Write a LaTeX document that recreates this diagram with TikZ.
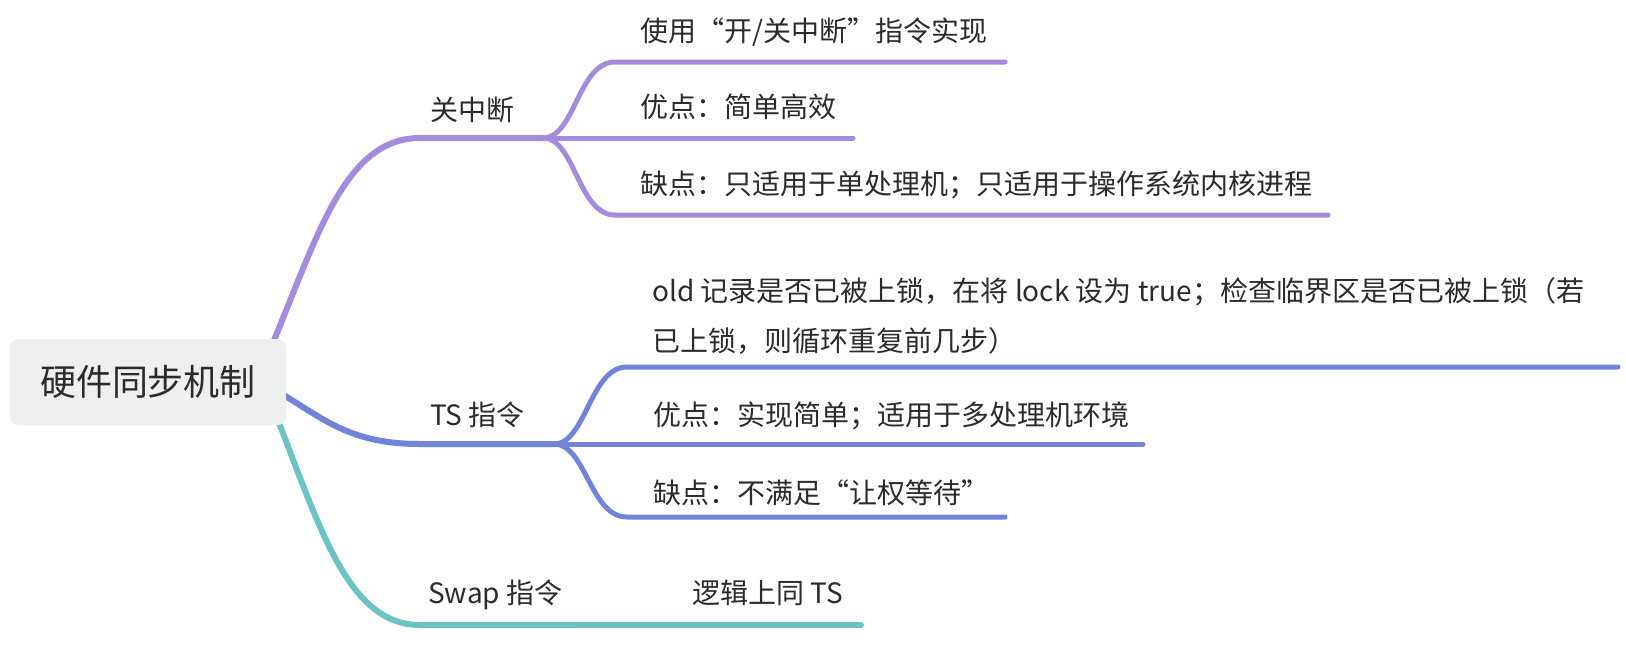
\documentclass[tikz,border=0pt]{standalone}
\usepackage{fontspec}
\setmainfont{Noto Sans CJK SC}
\definecolor{purpleC}{HTML}{A38BDD}
\definecolor{blueC}{HTML}{7283DA}
\definecolor{tealC}{HTML}{6DC3C3}
\definecolor{rootC}{HTML}{EEF0F0}
\definecolor{textC}{HTML}{2B2B2B}
\begin{document}
\begin{tikzpicture}[x=1pt,y=-1pt,
  mainline/.style={line width=6pt, line cap=round},
  subline/.style={line width=5pt, line cap=round},
  topic/.style={anchor=base west, inner sep=0pt, text=textC, font=\fontsize{28}{34}\selectfont},
  rootbox/.style={fill=rootC, rounded corners=8pt, minimum width=276pt, minimum height=86pt, inner sep=0pt, text=textC, font=\fontsize{36}{42}\selectfont}]
\useasboundingbox (0,0) rectangle (1626,670);

% coordinates
\coordinate (r1) at (272,345);
\coordinate (k1) at (420,138);
\coordinate (b1) at (543,138);
\coordinate (k1a) at (615,62);
\coordinate (e1a) at (1005,62);
\coordinate (e1b) at (853,138);
\coordinate (k1c) at (615,215);
\coordinate (e1c) at (1328,215);

\coordinate (r2) at (270,387);
\coordinate (k2) at (420,444);
\coordinate (b2) at (554,444);
\coordinate (k2a) at (627,367);
\coordinate (e2a) at (1618,367);
\coordinate (e2b) at (1143,444);
\coordinate (k2c) at (627,517);
\coordinate (e2c) at (1005,517);

\coordinate (r3) at (270,400);
\coordinate (k3) at (420,625);
\coordinate (b3) at (575,625);
\coordinate (e3) at (861,625);

% connectors
\draw[mainline, purpleC] (r1) .. controls (318,235) and (345,138) .. (k1) -- (b1);
\draw[subline, purpleC] (b1) .. controls +(32,0) and +(-37,0) .. (k1a) -- (e1a);
\draw[subline, purpleC] (b1) -- (e1b);
\draw[subline, purpleC] (b1) .. controls +(32,0) and +(-37,0) .. (k1c) -- (e1c);

\draw[mainline, blueC] (r2) .. controls (320,415) and (345,444) .. (k2) -- (b2);
\draw[subline, blueC] (b2) .. controls +(32,0) and +(-37,0) .. (k2a) -- (e2a);
\draw[subline, blueC] (b2) -- (e2b);
\draw[subline, blueC] (b2) .. controls +(32,0) and +(-37,0) .. (k2c) -- (e2c);

\draw[mainline, tealC] (r3) .. controls (318,520) and (345,625) .. (k3) -- (b3);
\draw[mainline, tealC] (b3) -- (e3);

% root
\node[rootbox] (root) at (148,382) {硬件同步机制};

% topics
\node[topic] (t1) at (430,120.5) {关中断};
\node[topic] (t1a) at (640,41.5) {使用“开/关中断”指令实现};
\node[topic] (t1b) at (640,117.5) {优点：简单高效};
\node[topic] (t1c) at (640,194.5) {缺点：只适用于单处理机；只适用于操作系统内核进程};

\node[topic] (t2) at (430,425.5) {TS 指令};
\node[topic] (t2a) at (652,301.5) {old 记录是否已被上锁，在将 lock 设为 true；检查临界区是否已被上锁（若};
\node[topic] (t2a2) at (652,351.5) {已上锁，则循环重复前几步）};
\node[topic] (t2b) at (653,425.5) {优点：实现简单；适用于多处理机环境};
\node[topic] (t2c) at (653,503.5) {缺点：不满足“让权等待”};

\node[topic] (t3) at (428,603.5) {Swap 指令};
\node[topic] (t3a) at (692,603.5) {逻辑上同 TS};
\end{tikzpicture}
\end{document}
